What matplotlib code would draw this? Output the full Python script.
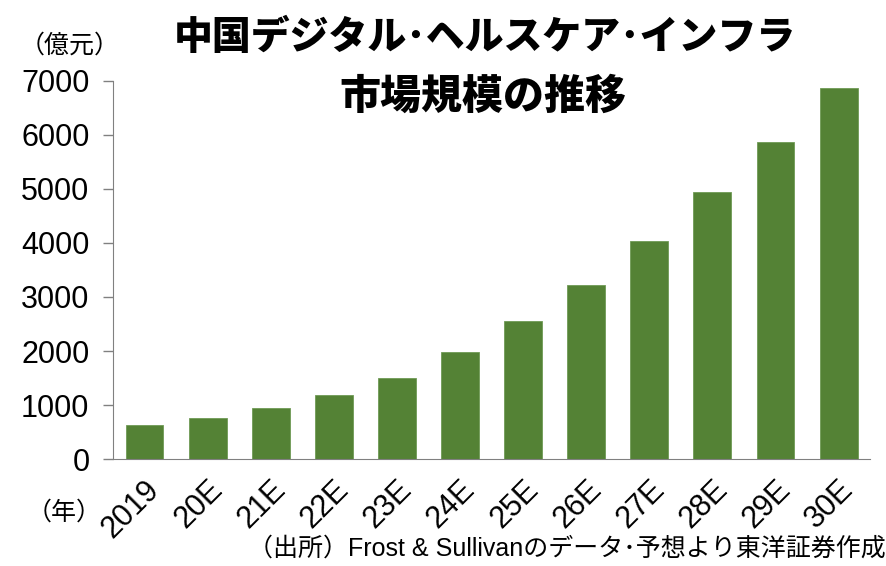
import matplotlib
matplotlib.use("Agg")
import matplotlib.pyplot as plt
import numpy as np

plt.rcParams["font.family"] = ["Liberation Sans", "Noto Sans CJK JP", "DejaVu Sans"]

# market size, 100 million yuan
years = ["2019", "20E", "21E", "22E", "23E", "24E", "25E", "26E", "27E", "28E", "29E", "30E"]
market_size = [630, 760, 945, 1180, 1500, 1980, 2555, 3220, 4040, 4940, 5865, 6865]
y_ticks = [0, 1000, 2000, 3000, 4000, 5000, 6000, 7000]

title_lines = ["中国デジタル･ヘルスケア･インフラ", "市場規模の推移"]
unit_label = "（億元）"
year_label = "（年）"
source_note = "（出所）Frost & Sullivanのデータ･予想より東洋証券作成"

fig = plt.figure(figsize=(8.87, 5.66), dpi=100)
ax = fig.add_axes([0.1274, 0.189, 0.8536, 0.668])

x = np.arange(len(years))
ax.bar(x, market_size, width=0.6, color="#548235", edgecolor="#6f9a55", linewidth=0.6)

ax.set_xlim(-0.5, len(years) - 0.5)
ax.set_ylim(0, 7000)
ax.set_yticks(y_ticks)
ax.set_yticklabels([str(v) for v in y_ticks], fontsize=22)
ax.tick_params(axis="y", direction="out", length=7, width=1, color="#808080", pad=10)
ax.set_xticks(x)
ax.set_xticklabels(years, fontsize=22, rotation=45, ha="right", rotation_mode="anchor")
ax.tick_params(axis="x", length=0, pad=11)

for side in ("top", "right"):
    ax.spines[side].set_visible(False)
ax.spines["left"].set_color("#808080")
ax.spines["bottom"].set_color("#808080")

fig.text(0.547, 0.934, title_lines[0], ha="center", va="center",
         fontsize=28, fontweight="heavy", family=["Noto Sans CJK JP"])
fig.text(0.544, 0.829, title_lines[1], ha="center", va="center",
         fontsize=29.5, fontweight="heavy", family=["Noto Sans CJK JP"])
fig.text(0.022, 0.92, unit_label, ha="left", va="center", fontsize=18)
fig.text(0.03, 0.095, year_label, ha="left", va="center", fontsize=18)
fig.text(0.999, 0.03, source_note, ha="right", va="center", fontsize=18)

fig.savefig("out.png", dpi=100)
